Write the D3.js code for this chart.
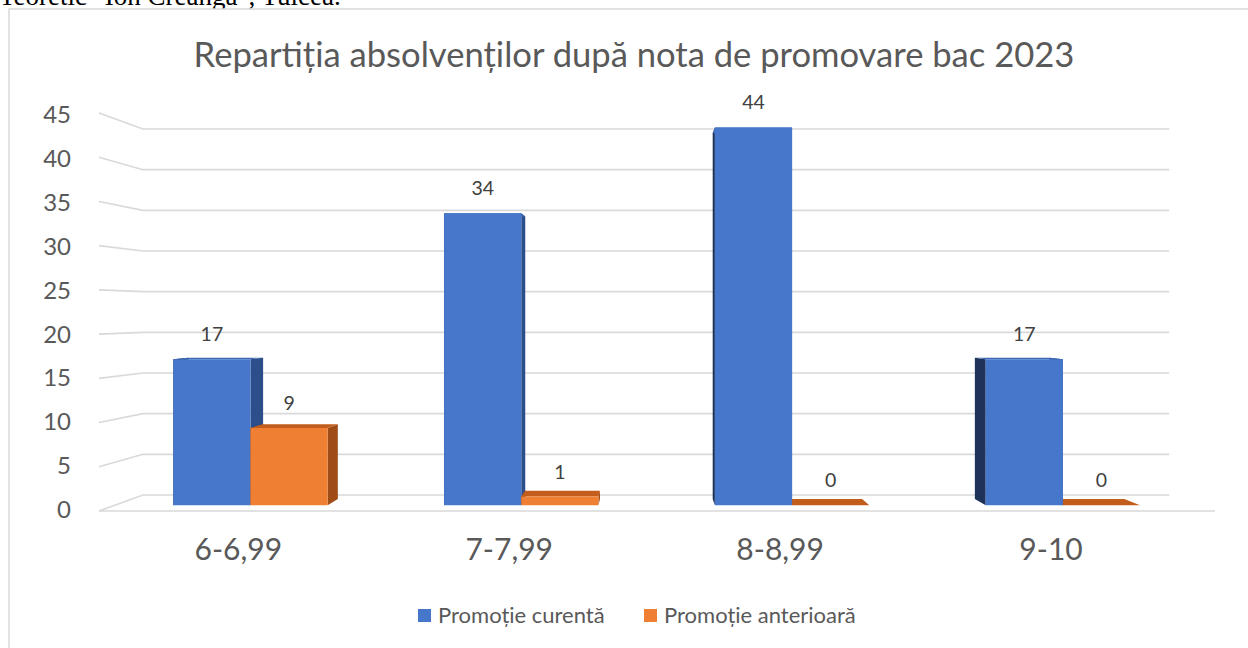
<!DOCTYPE html>
<html>
<head>
<meta charset="utf-8">
<script src="https://cdn.jsdelivr.net/npm/d3@7"></script>
<style>
  body { margin: 0; background: #fff; }
  svg { display: block; }
</style>
</head>
<body>
<svg id="chart" width="1248" height="648"></svg>
<script>
// ---- data ----
const categories = ["6-6,99", "7-7,99", "8-8,99", "9-10"];
const seriesNames = ["Promoție curentă", "Promoție anterioară"];
const currentClass = [17, 34, 44, 17];
const previousClass = [9, 1, 0, 0];
const valueTicks = [0, 5, 10, 15, 20, 25, 30, 35, 40, 45];
const chartTitle = "Repartiția absolvenților după nota de promovare bac 2023";
const headerText = "Teoretic \"Ion Creangă\", Tulcea.";

// ---- setup ----
const svg = d3.select("#chart");
const FONT = "Lato, 'Open Sans', 'DejaVu Sans', sans-serif";

// simple one-point perspective: vanishing point + depth scale of each plane
const vx = 646, vy = 312;
const S_WALL_BACK = 0.9196;
const S_BAR_FRONT = 0.9706;
const S_BAR_BACK = 0.9396;
const proj = (px, py, s) => [vx + (px - vx) * s, vy + (py - vy) * s];

const x = d3.scaleBand().domain(categories).range([99, 1215]);
const y = d3.scaleLinear().domain([0, 45]).range([511, 113]);

const palette = [
  { front: "#4777ca", right: "#2c4f8c", left: "#1e3358", top: "#3d68b8" },
  { front: "#ef7f33", right: "#a04c16", left: "#7a3a10", top: "#c35d1b" }
];
const series = [
  { name: seriesNames[0], values: currentClass, colors: palette[0] },
  { name: seriesNames[1], values: previousClass, colors: palette[1] }
];

// header line of the surrounding document, running off the top edge
svg.append("text")
  .attr("x", -1).attr("y", 5)
  .attr("font-family", "'Liberation Serif', 'Times New Roman', serif")
  .attr("font-size", 27).attr("fill", "#000")
  .text(headerText);

// chart frame
svg.append("rect")
  .attr("x", 9).attr("y", 9).attr("width", 1260).attr("height", 660)
  .attr("fill", "#fff").attr("stroke", "#d9d9d9").attr("stroke-width", 1.5);

// title
svg.append("text")
  .attr("x", 634).attr("y", 67)
  .attr("text-anchor", "middle")
  .attr("font-family", FONT).attr("font-size", 34.6).attr("fill", "#595959")
  .text(chartTitle);

// ---- walls: side-wall tick lines and back-wall gridlines ----
const grid = svg.append("g").attr("fill", "none")
  .attr("stroke", "#d9d9d9").attr("stroke-width", 1.6);
valueTicks.forEach(v => {
  const a = [99, y(v)];
  const b = proj(99, y(v), S_WALL_BACK);
  const c = proj(1215, y(v), S_WALL_BACK);
  grid.append("path").attr("d", d3.line()([a, b, c]));
});
// front edge of the floor
grid.append("line")
  .attr("x1", 99).attr("y1", y(0)).attr("x2", 1215).attr("y2", y(0));

// value axis labels
svg.append("g").selectAll("text").data(valueTicks).join("text")
  .attr("x", 71)
  .attr("y", d => proj(0, y(d), 0.991)[1])
  .attr("dy", "0.36em")
  .attr("text-anchor", "end")
  .attr("font-family", FONT).attr("font-size", 24).attr("fill", "#595959")
  .text(d => d);

// ---- bars as perspective boxes ----
const barFrac = 0.285;
const bars = [];
categories.forEach((cat, i) => {
  const c = x(cat) + x.bandwidth() / 2;
  const w = x.bandwidth() * barFrac;
  series.forEach((s, k) => {
    const x0 = k === 0 ? c - w : c;
    bars.push({ cat, value: s.values[i], x0, x1: x0 + w, colors: s.colors });
  });
});
// paint boxes farthest from the vanishing point first
bars.sort((a, b) => Math.abs((b.x0 + b.x1) / 2 - vx) - Math.abs((a.x0 + a.x1) / 2 - vx));

const poly = pts => "M" + pts.map(p => p.join(",")).join("L") + "Z";
const barLayer = svg.append("g");
bars.forEach(b => {
  const yt = y(b.value), yb = y(0);
  const F = S_BAR_FRONT, B = S_BAR_BACK;
  const g = barLayer.append("g");
  // right side
  g.append("path").attr("fill", b.colors.right).attr("d", poly([
    proj(b.x1, yt, F), proj(b.x1, yt, B), proj(b.x1, yb, B), proj(b.x1, yb, F)]));
  // left side
  g.append("path").attr("fill", b.colors.left).attr("d", poly([
    proj(b.x0, yt, F), proj(b.x0, yt, B), proj(b.x0, yb, B), proj(b.x0, yb, F)]));
  // top
  g.append("path").attr("fill", b.colors.top).attr("d", poly([
    proj(b.x0, yt, F), proj(b.x1, yt, F), proj(b.x1, yt, B), proj(b.x0, yt, B)]));
  // front
  if (b.value > 0) {
    g.append("path").attr("fill", b.colors.front).attr("d", poly([
      proj(b.x0, yt, F), proj(b.x1, yt, F), proj(b.x1, yb, F), proj(b.x0, yb, F)]));
  }
});

// data labels
svg.append("g").selectAll("text").data(bars).join("text")
  .attr("x", d => proj((d.x0 + d.x1) / 2, 0, S_BAR_FRONT)[0])
  .attr("y", d => proj(0, y(d.value), S_BAR_FRONT)[1] - 18)
  .attr("text-anchor", "middle")
  .attr("font-family", FONT).attr("font-size", 19.5).attr("fill", "#404040")
  .text(d => d.value);

// category labels
svg.append("g").selectAll("text").data(categories).join("text")
  .attr("x", d => proj(x(d) + x.bandwidth() / 2, 0, 0.971)[0] - 12)
  .attr("y", 560)
  .attr("text-anchor", "middle")
  .attr("font-family", FONT).attr("font-size", 30).attr("fill", "#595959")
  .text(d => d);

// legend
const legendX = [418, 644];
const legend = svg.append("g").selectAll("g").data(series).join("g")
  .attr("transform", (d, i) => `translate(${legendX[i]},609)`);
legend.append("rect").attr("width", 13).attr("height", 13)
  .attr("fill", d => d.colors.front);
legend.append("text").attr("x", 20).attr("y", 14)
  .attr("font-family", FONT).attr("font-size", 22).attr("fill", "#595959")
  .text(d => d.name);
</script>
</body>
</html>
